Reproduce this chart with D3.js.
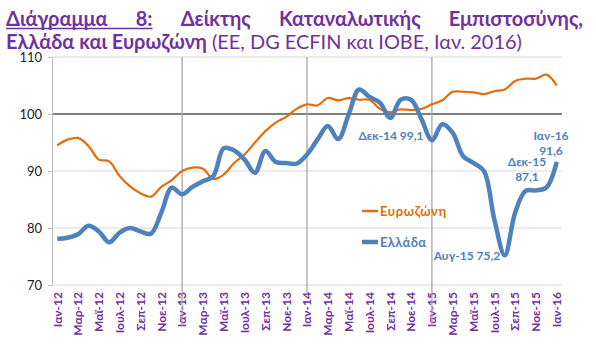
<!DOCTYPE html>
<html><head><meta charset="utf-8">
<script src="https://cdn.jsdelivr.net/npm/d3@7"></script>
<style>
body{margin:0;background:#fff}
svg{display:block}
text{font-family:Lato,"Open Sans",sans-serif}
</style></head>
<body>
<svg id="chart" width="596" height="344"></svg>
<script>
// ---------- data ----------
const monthNames = ["Ιαν","Φεβ","Μαρ","Απρ","Μαϊ","Ιουν","Ιουλ","Αυγ","Σεπ","Οκτ","Νοε","Δεκ"];
const years = ["12","13","14","15","16"];
const categories = [];
years.forEach(y => monthNames.forEach(m => { if (categories.length < 49) categories.push(m + "-" + y); }));

const eurozone = [94.5,95.5,95.8,94.4,92.0,91.7,89.1,87.3,86.1,85.5,87.2,88.4,
                  90.0,90.6,90.4,88.6,89.4,91.4,92.9,95.0,97.0,98.5,99.5,100.9,
                  101.7,101.5,102.8,102.4,102.8,102.5,102.5,100.9,100.3,100.8,100.7,100.9,
                  101.7,102.4,103.9,103.9,103.8,103.5,104.0,104.3,105.8,106.2,106.2,106.9,
                  105.0];
const greece   = [78.1,78.3,78.9,80.4,79.4,77.5,79.2,80.0,79.4,79.0,82.7,87.1,
                  85.9,87.2,88.2,89.1,94.0,93.6,92.0,89.7,93.5,91.6,91.4,91.3,
                  92.9,95.5,97.9,95.6,99.9,104.3,103.0,102.0,99.3,102.5,102.5,99.1,
                  95.4,98.2,96.7,92.6,91.4,90.0,81.5,75.2,82.7,86.5,86.6,87.1,
                  91.6];
const yTicks = [70,80,90,100,110];
const xTickLabels = categories.filter((c,i) => i % 2 === 0);
const yearStarts = ["Ιαν-13","Ιαν-14","Ιαν-15"];
const seriesNames = ["Ευρωζώνη","Ελλάδα"];
const annotations = [
  {cat:"Δεκ-14", lines:["Δεκ-14 99,1"]},
  {cat:"Αυγ-15", lines:["Αυγ-15 75,2"]},
  {cat:"Δεκ-15", lines:["Δεκ-15","87,1"]},
  {cat:"Ιαν-16", lines:["Ιαν-16","91,6"]}
];
const titleLine1 = ["Διάγραμμα","8:","Δείκτης","Καταναλωτικής","Εμπιστοσύνης,"];
const titleLine2Bold = "Ελλάδα και Ευρωζώνη";
const titleLine2Reg = " (ΕΕ, DG ECFIN και ΙΟΒΕ, Ιαν. 2016)";

// ---------- styles ----------
const PURPLE = "#7030A0", ORANGE = "#E46C0A", BLUE = "#4F81BD";
const svg = d3.select("#chart");
const L = 52, R = 562, T = 57, B = 285;

const x = d3.scaleBand().domain(categories).range([L, R]);
const cx = c => x(c) + x.bandwidth() / 2;
const y = d3.scaleLinear().domain([70, 110]).range([B, T]);

// ---------- title ----------
const tg = svg.append("g");
const probe = tg.append("text").attr("x", 6).attr("y", 49).attr("fill", PURPLE).style("font-size", "19px");
probe.append("tspan").attr("font-weight", "bold").text(titleLine2Bold);
probe.append("tspan").text(titleLine2Reg);
const w2 = probe.node().getComputedTextLength();
const fs = 19 * 516 / w2;
probe.style("font-size", fs + "px");

const words = titleLine1.map(w => {
  const t = tg.append("text").attr("y", 26).attr("fill", PURPLE).attr("font-weight", "bold")
    .style("font-size", fs + "px").text(w);
  return {t, w: t.node().getComputedTextLength()};
});
const totalW = d3.sum(words, d => d.w);
const gap = (583 - 6 - totalW) / (words.length - 1);
let cxp = 6;
words.forEach((d, i) => { d.t.attr("x", cxp); d.x = cxp; cxp += d.w + gap; });
tg.append("line").attr("x1", words[0].x).attr("x2", words[1].x + words[1].w)
  .attr("y1", 28.5).attr("y2", 28.5).attr("stroke", PURPLE).attr("stroke-width", 1.4);

// ---------- grid ----------
svg.append("g").selectAll("line").data(yTicks).join("line")
  .attr("x1", L).attr("x2", R).attr("y1", d => y(d)).attr("y2", d => y(d))
  .attr("stroke", d => d === 100 ? "#000" : "#D9D9D9").attr("stroke-width", 1);

// ---------- y axis ----------
const yAxis = svg.append("g").attr("transform", `translate(${L},0)`)
  .call(d3.axisLeft(y).tickValues(yTicks).tickSize(4).tickPadding(6).tickFormat(d3.format("d")));
yAxis.select(".domain").attr("stroke", "#BFBFBF");
yAxis.selectAll(".tick line").attr("stroke", "#BFBFBF");
yAxis.selectAll(".tick text").attr("fill", "#222").style("font-size", "13px")
  .style("font-family", "Lato, sans-serif");

// ---------- x labels ----------
svg.append("g").selectAll("text").data(xTickLabels).join("text")
  .attr("transform", d => `translate(${cx(d)},292) rotate(-90)`)
  .attr("text-anchor", "end").attr("dy", "0.36em")
  .attr("fill", PURPLE).attr("font-weight", "bold").style("font-size", "12px")
  .text(d => d);

// ---------- year separators ----------
svg.append("g").selectAll("line").data(yearStarts).join("line")
  .attr("x1", d => cx(d)).attr("x2", d => cx(d))
  .attr("y1", T).attr("y2", d => d === "Ιαν-14" ? 293 : 326)
  .attr("stroke", "#A6A6A6").attr("stroke-width", 1.3);

// ---------- series ----------
const line = d3.line().x((d, i) => cx(categories[i])).y(d => y(d)).curve(d3.curveCatmullRom.alpha(0.5));
svg.append("path").datum(eurozone).attr("d", line).attr("fill", "none")
  .attr("stroke", ORANGE).attr("stroke-width", 2.2);
svg.append("path").datum(greece).attr("d", line).attr("fill", "none")
  .attr("stroke", BLUE).attr("stroke-width", 4.5).attr("stroke-linejoin", "round");

// ---------- legend ----------
const lg = svg.append("g");
[[ORANGE, 2.5, 211], [BLUE, 4.5, 242]].forEach(([col, sw, ly], i) => {
  lg.append("line").attr("x1", 362).attr("x2", 378).attr("y1", ly).attr("y2", ly)
    .attr("stroke", col).attr("stroke-width", sw);
  lg.append("text").attr("x", 380).attr("y", ly).attr("dy", "0.35em")
    .attr("fill", col).attr("font-weight", "bold").style("font-size", "13px")
    .style("letter-spacing", i === 0 ? "0.6px" : "0.3px").text(seriesNames[i]);
});

// ---------- annotations ----------
const annPos = {
  "Δεκ-14": {x: 391, y: 136, anchor: "middle"},
  "Αυγ-15": {x: 467, y: 256, anchor: "middle"},
  "Δεκ-15": {x: 527, y: 161.5, anchor: "middle"},
  "Ιαν-16": {x: 551, y: 135.5, anchor: "middle"}
};
annotations.forEach(a => {
  const p = annPos[a.cat];
  a.lines.forEach((t, j) => {
    svg.append("text").attr("x", p.x).attr("y", p.y + j * 15).attr("dy", "0.35em")
      .attr("text-anchor", p.anchor).attr("fill", BLUE).attr("font-weight", "bold")
      .style("font-size", "12px").text(t);
  });
});
</script>
</body></html>
